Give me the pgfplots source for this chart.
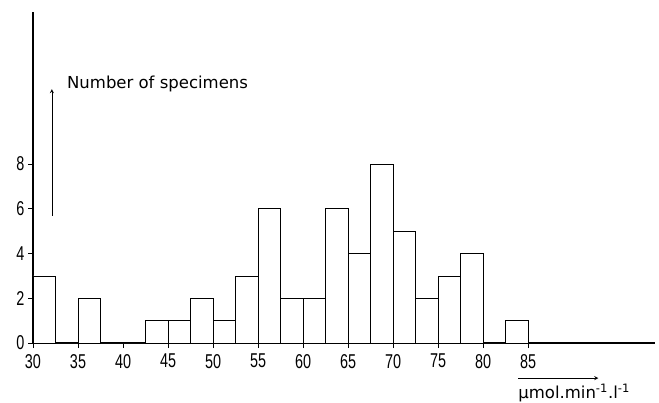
\documentclass[border=0pt]{standalone}
\usepackage{fontspec}
\setmainfont{Liberation Sans}
\newfontfamily\ticksfont{Liberation Sans}[FakeStretch=0.72]
\newfontfamily\labfont{DejaVu Sans}
\usepackage{pgfplots}
\pgfplotsset{compat=1.18}
\begin{document}
\begin{tikzpicture}[x=1pt,y=1pt]
\useasboundingbox (-33,-59) rectangle (626,343);
\begin{axis}[
  at={(0,0)}, anchor=origin,
  scale only axis, width=622pt, height=331pt,
  xmin=30, xmax=99.1, ymin=0, ymax=14.8,
  axis x line=bottom, axis y line=left,
  axis line style={-, line width=1.3pt, black},
  xtick={30,35,...,85}, ytick={0,2,4,6,8},
  tick align=outside, major tick length=5pt,
  tick style={line width=0.9pt, black},
  /pgf/number format/assume math mode=true,
  tick label style={font=\ticksfont\fontsize{20}{20}\selectfont},
  xticklabel style={yshift=-2.5pt},
  clip=false,
]
\addplot[ybar interval, draw=black, fill=white, line width=0.8pt] coordinates {
(30,3) (32.5,0) (35,2) (37.5,0) (40,0) (42.5,1) (45,1) (47.5,2) (50,1) (52.5,3)
(55,6) (57.5,2) (60,2) (62.5,6) (65,4) (67.5,8) (70,5) (72.5,2) (75,3) (77.5,4)
(80,0) (82.5,1) (85,1)
};
\draw[-stealth, line width=0.8pt] (axis cs:32.1,5.7) -- (axis cs:32.1,11.35);
\node[anchor=west, font=\labfont\fontsize{16.5}{16.5}\selectfont] at (axis cs:33.4,11.6) {Number of specimens};
\draw[-stealth, line width=0.8pt] (axis cs:83.9,-1.57) -- (axis cs:92.8,-1.57);
\node[anchor=west, font=\labfont\fontsize{16.5}{16.5}\selectfont, inner sep=0pt] at (axis cs:83.9,-2.25) {µmol.min\textsuperscript{-1}.l\textsuperscript{-1}};
\end{axis}
\end{tikzpicture}
\end{document}
